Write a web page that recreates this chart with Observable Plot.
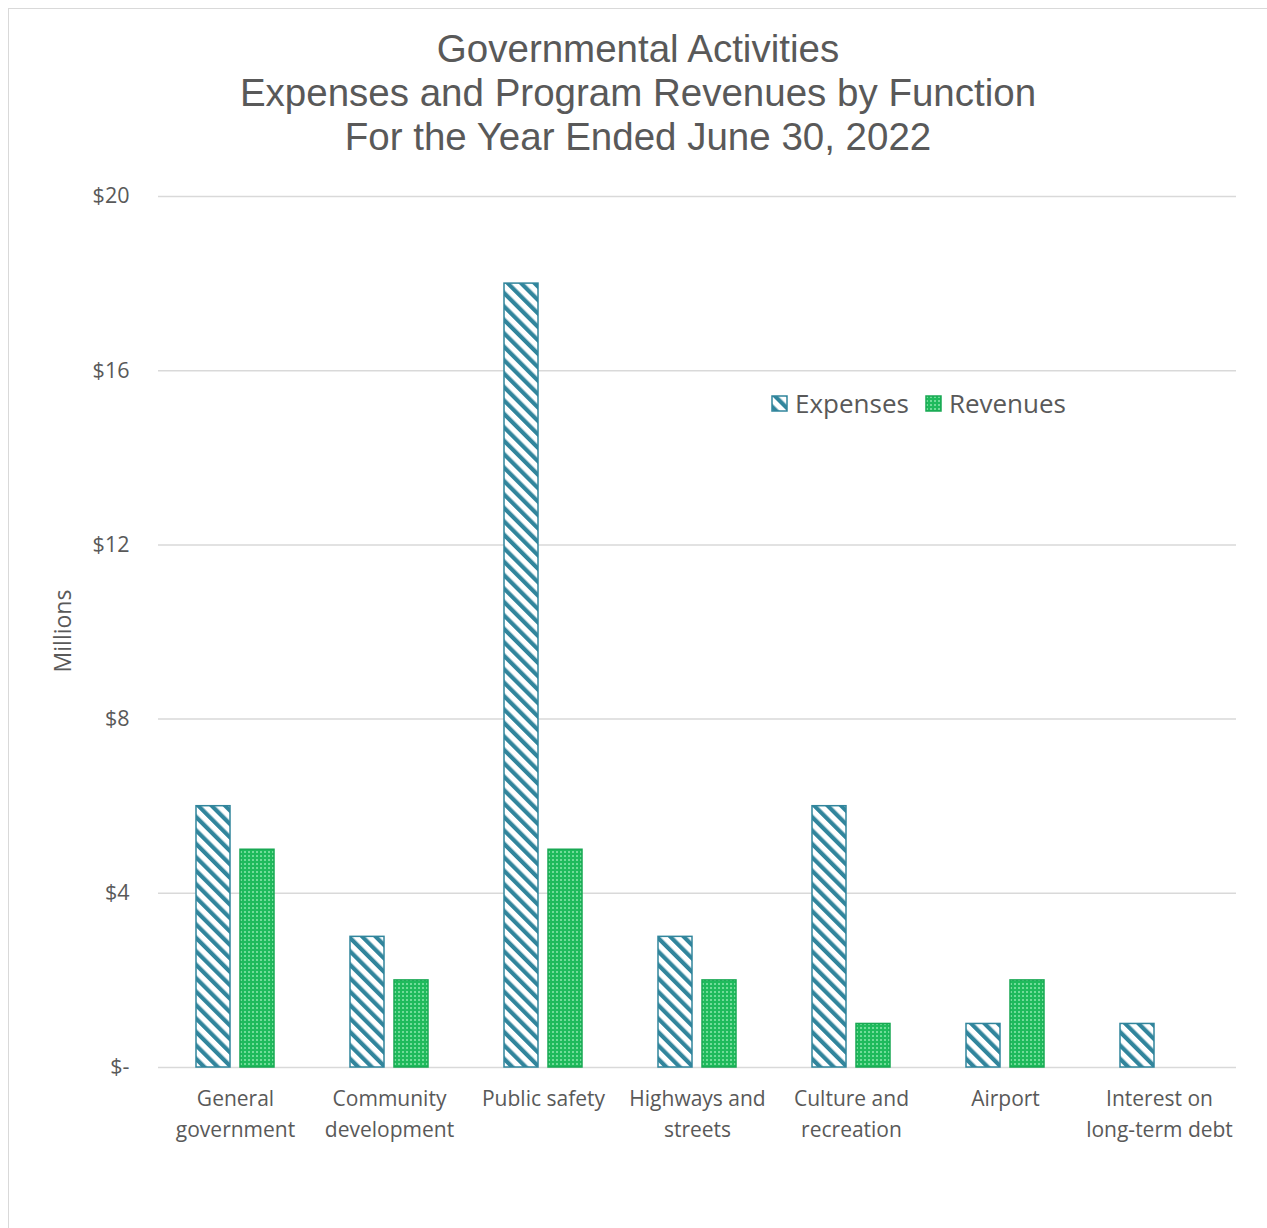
<!DOCTYPE html>
<html>
<head>
<meta charset="utf-8">
<script src="https://cdn.jsdelivr.net/npm/d3@7"></script>
<script src="https://cdn.jsdelivr.net/npm/@observablehq/plot@0.6"></script>
<style>
  html, body { margin: 0; padding: 0; background: #fff; }
  body { width: 1267px; height: 1228px; position: relative; overflow: hidden; }
  #frame { position: absolute; left: 8px; top: 8px; width: 1320px; height: 1300px; border: 1px solid #d9d9d9; box-sizing: border-box; }
  #title { position: absolute; left: 0; top: 27px; width: 1276px; text-align: center; font-family: "Liberation Sans", Arial, sans-serif; font-size: 38.5px; line-height: 44px; color: #595959; }
  #chart { position: absolute; left: 0; top: 170px; }
  #ylabel { position: absolute; left: 62px; top: 631px; transform: translate(-50%, -50%) rotate(-90deg); font-family: "Open Sans", sans-serif; font-size: 23px; color: #595959; white-space: nowrap; }
  #legend { position: absolute; left: 771px; top: 385px; font-family: "Open Sans", sans-serif; font-size: 26px; color: #595959; display: flex; align-items: center; white-space: nowrap; }
  #legend .item { display: flex; align-items: center; margin-right: 16px; }
  #legend svg { margin-right: 7px; }
</style>
</head>
<body>
<div id="frame"></div>
<div id="title">Governmental Activities<br>Expenses and Program Revenues by Function<br>For the Year Ended June 30, 2022</div>
<div id="chart"></div>
<div id="ylabel">Millions</div>
<div id="legend"></div>
<script>
// ---- data ----
const categories = ["General government", "Community development", "Public safety", "Highways and streets", "Culture and recreation", "Airport", "Interest on long-term debt"];
const categoryLabels = ["General\ngovernment", "Community\ndevelopment", "Public safety", "Highways and\nstreets", "Culture and\nrecreation", "Airport", "Interest on\nlong-term debt"];
const seriesNames = ["Expenses", "Revenues"];
const expenses = [6, 3, 18, 3, 6, 1, 1];
const revenues = [5, 2, 5, 2, 1, 2, 0];
const yTicks = [0, 4, 8, 12, 16, 20];
const yTickLabels = ["$-", "$4", "$8", "$12", "$16", "$20"];

const teal = "#31859c";
const green = "#1fba5c";

const rows = categories.flatMap((c, i) => [
  {category: c, series: "Expenses", value: expenses[i]},
  {category: c, series: "Revenues", value: revenues[i]}
]).filter(d => d.value > 0);

const labelMap = new Map(categories.map((c, i) => [c, categoryLabels[i]]));
const tickLabelMap = new Map(yTicks.map((t, i) => [t, yTickLabels[i]]));

const plot = Plot.plot({
  width: 1267,
  height: 987,
  marginLeft: 155,
  marginRight: 29,
  marginTop: 26,
  marginBottom: 90,
  style: {fontFamily: "Open Sans, sans-serif", fontSize: "21px", color: "#595959", background: "transparent", overflow: "visible"},
  fx: {domain: categories, padding: 0, label: null},
  x: {domain: seriesNames, paddingInner: 0.222, paddingOuter: 0.83, axis: null},
  y: {domain: [0, 20], label: null},
  marks: [
    Plot.gridY(yTicks, {stroke: "#d9d9d9", strokeOpacity: 1, strokeWidth: 1.5}),
    Plot.axisY(yTicks, {tickSize: 0, tickPadding: 29, tickFormat: d => tickLabelMap.get(d), fontSize: 21.5, label: null}),
    Plot.axisFx({anchor: "bottom", tickSize: 0, tickPadding: 16, tickFormat: d => labelMap.get(d), fontSize: 21, lineHeight: 1.48, label: null}),
    Plot.barY(rows.filter(d => d.series === "Expenses"), {fx: "category", x: "series", y: "value", fill: "url(#stripes)", stroke: teal, strokeWidth: 1.5}),
    Plot.barY(rows.filter(d => d.series === "Revenues"), {fx: "category", x: "series", y: "value", fill: "url(#dots)", stroke: "#19a853", strokeWidth: 1.5})
  ]
});

function addPatterns(svgNode) {
  const defs = d3.select(svgNode).insert("defs", ":first-child");
  const s = defs.append("pattern").attr("id", "stripes").attr("patternUnits", "userSpaceOnUse")
    .attr("width", 9.5).attr("height", 9.5).attr("patternTransform", "rotate(-45)");
  s.append("rect").attr("width", 9.5).attr("height", 9.5).attr("fill", "#fff");
  s.append("rect").attr("width", 4.2).attr("height", 9.5).attr("fill", teal);
  const p = defs.append("pattern").attr("id", "dots").attr("patternUnits", "userSpaceOnUse")
    .attr("width", 4).attr("height", 4);
  p.append("rect").attr("width", 4).attr("height", 4).attr("fill", green);
  p.append("circle").attr("cx", 2).attr("cy", 2).attr("r", 1).attr("fill", "#8ce8ae");
}
addPatterns(plot);
document.getElementById("chart").appendChild(plot);

// legend
const legend = d3.select("#legend");
[["Expenses", "url(#stripes)", teal], ["Revenues", "url(#dots)", "#19a853"]].forEach(([name, fill, stroke]) => {
  const item = legend.append("div").attr("class", "item");
  const sw = item.append("svg").attr("width", 17).attr("height", 17);
  sw.append("rect").attr("x", 1).attr("y", 1).attr("width", 15).attr("height", 15)
    .attr("fill", fill).attr("stroke", stroke).attr("stroke-width", 1.5);
  item.append("span").text(name);
});
</script>
</body>
</html>
